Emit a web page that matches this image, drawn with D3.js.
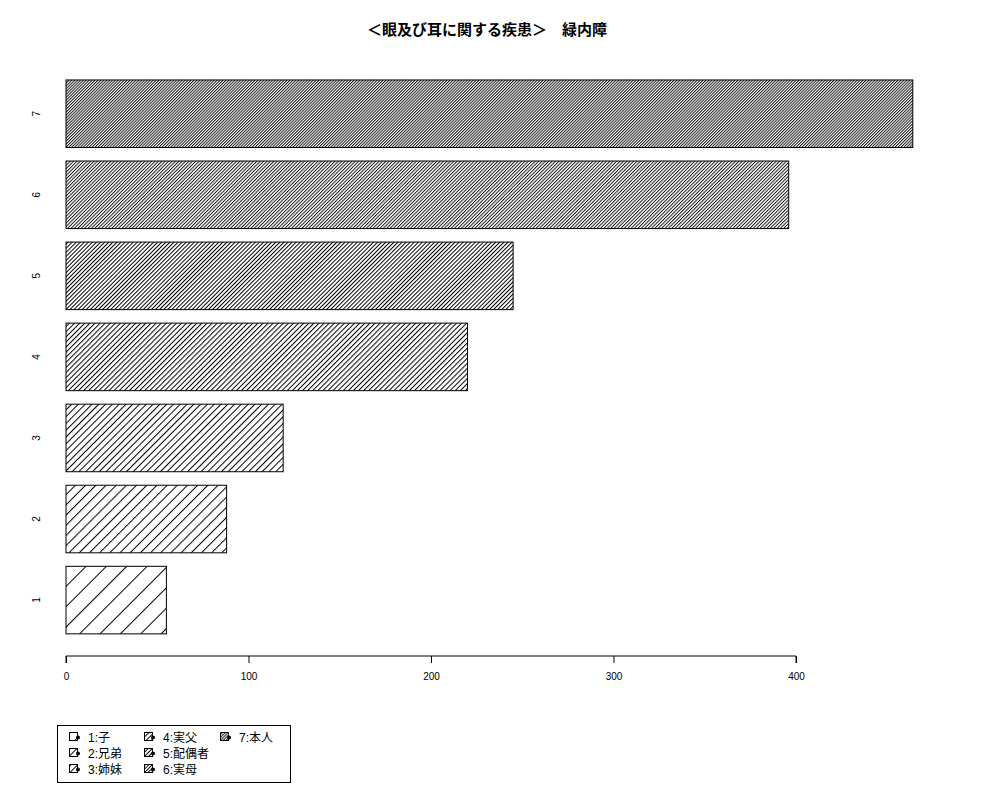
<!DOCTYPE html>
<html><head><meta charset="utf-8">
<script src="https://cdn.jsdelivr.net/npm/d3@7/dist/d3.min.js"></script>
<style>body{margin:0;background:#fff;} svg{display:block;}</style>
</head><body>
<script>
const title = "＜眼及び耳に関する疾患＞　緑内障";
const categories = ["1","2","3","4","5","6","7"];
const values = [55, 88, 119, 220, 245, 396, 464];
const legendLabels = ["1:子","2:兄弟","3:姉妹","4:実父","5:配偶者","6:実母","7:本人"];
const densities = [5, 10, 15, 20, 25, 30, 35];
const xTicks = [0, 100, 200, 300, 400];

const W = 1000, H = 800;
const latin = "'Liberation Sans', Arial, 'Noto Sans CJK JP', sans-serif";
const cjk = "'Liberation Sans', 'Noto Sans CJK JP', sans-serif";

const svg = d3.select("body").append("svg").attr("width", W).attr("height", H);
svg.append("rect").attr("width", W).attr("height", H).attr("fill", "#fff");

const x = d3.scaleLinear().domain([0, 400]).range([66, 796]);
const y = d3.scaleLinear().domain([-0.128, 8.728]).range([656, 57.8]);

// hatch patterns (density = lines per inch at 72 dpi, angle 45)
const defs = svg.append("defs");
densities.forEach((d, i) => {
  const sp = 72 / d;
  const p = defs.append("pattern").attr("id", "h" + i)
    .attr("patternUnits", "userSpaceOnUse")
    .attr("width", sp).attr("height", sp)
    .attr("patternTransform", "rotate(45)");
  p.append("line").attr("x1", 0.5).attr("x2", 0.5).attr("y1", -1).attr("y2", sp + 1)
    .attr("stroke", "#000").attr("stroke-width", i >= 5 ? 0.9 : 1);
});

// bars
const bars = svg.append("g");
values.forEach((v, i) => {
  const y0 = 0.2 + 1.2 * i, y1 = y0 + 1;
  bars.append("rect")
    .attr("x", x(0)).attr("y", y(y1))
    .attr("width", x(v) - x(0)).attr("height", y(y0) - y(y1))
    .attr("fill", "#fff");
  bars.append("rect")
    .attr("x", x(0)).attr("y", y(y1))
    .attr("width", x(v) - x(0)).attr("height", y(y0) - y(y1))
    .attr("fill", `url(#h${i})`).attr("stroke", "#000").attr("stroke-width", 1);
});

// y labels
categories.forEach((c, i) => {
  const cy = y(0.7 + 1.2 * i);
  svg.append("text").attr("transform", `translate(40,${cy}) rotate(-90)`)
    .attr("text-anchor", "middle")
    .attr("font-family", latin).attr("font-size", 10).text(c);
});

// x axis
const ax = svg.append("g").attr("transform", "translate(0,656)")
  .call(d3.axisBottom(x).tickValues(xTicks).tickSize(7).tickPadding(10).tickFormat(d3.format("d")));
ax.selectAll("path,line").attr("stroke", "#000");
ax.select(".domain").attr("d", `M${x(0)},7V0H${x(400)}V7`);
ax.selectAll("text").attr("font-family", latin).attr("font-size", 10).attr("fill", "#000");

// title
svg.append("text").attr("x", 487).attr("y", 35).attr("text-anchor", "middle")
  .attr("font-family", cjk).attr("font-weight", "bold").attr("font-size", 15)
  .text(title);

// legend
const lg = svg.append("g");
lg.append("rect").attr("x", 57.5).attr("y", 725.5).attr("width", 233).attr("height", 57)
  .attr("fill", "#fff").attr("stroke", "#000").attr("stroke-width", 1);
const colX = [69, 144, 220];
const rowY = [737, 753, 769];
legendLabels.forEach((lab, i) => {
  const c = Math.floor(i / 3), r = i % 3;
  const bx = colX[c], by = rowY[r];
  lg.append("rect").attr("x", bx + 0.5).attr("y", by - 4.5).attr("width", 8).attr("height", 8)
    .attr("fill", `url(#h${i})`).attr("stroke", "#000").attr("stroke-width", 1);
  lg.append("circle").attr("cx", bx + 9).attr("cy", by + 0.5).attr("r", 2).attr("fill", "#000");
  lg.append("text").attr("x", bx + 19).attr("y", by + 4.5)
    .attr("font-family", cjk).attr("font-size", 12).text(lab);
});
</script>
</body></html>
